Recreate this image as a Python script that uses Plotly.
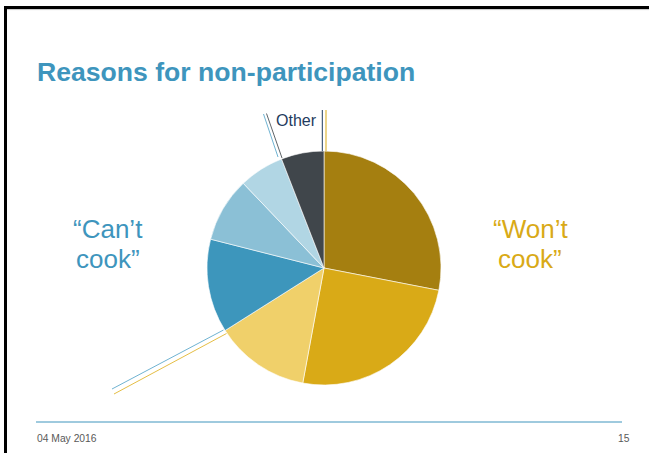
import plotly.graph_objects as go

# ---- data ----
reasons = ["Won't 1", "Won't 2", "Won't 3", "Can't 1", "Can't 2", "Can't 3", "Other"]
shares = [28.0, 24.8, 13.1, 12.9, 8.9, 6.2, 5.9]
slice_colors = ["#A57F10", "#D9AA17", "#F0D06A", "#3D96BC", "#8BC0D6", "#B1D6E4", "#40464B"]

title_text = "Reasons for non-participation"
cant_lines = ["\u201cCan\u2019t", "cook\u201d"]
wont_lines = ["\u201cWon\u2019t", "cook\u201d"]
other_text = "Other"
date_text = "04 May 2016"
page_text = "15"

W, H = 649, 453

def px(x):
    return x / W

def py(y):
    return 1 - y / H

fig = go.Figure()
fig.add_trace(go.Pie(
    labels=reasons, values=shares, sort=False, direction="clockwise", rotation=0,
    marker=dict(colors=slice_colors, line=dict(color="white", width=0.6)),
    textinfo="none", hoverinfo="label+percent", showlegend=False,
    domain=dict(x=[px(207), px(441)], y=[py(385), py(151)]),
))

shapes = []
# slide border (top and left)
shapes.append(dict(type="rect", xref="paper", yref="paper", x0=px(4), x1=px(7), y0=py(453), y1=py(6),
                   fillcolor="black", line=dict(width=0), layer="above"))
shapes.append(dict(type="rect", xref="paper", yref="paper", x0=px(4), x1=px(649), y0=py(9), y1=py(6),
                   fillcolor="black", line=dict(width=0), layer="above"))
shapes.append(dict(type="line", xref="paper", yref="paper", x0=px(7), x1=px(649), y0=py(9.6), y1=py(9.6),
                   line=dict(color="#C8C8C8", width=1)))
# footer rule
shapes.append(dict(type="line", xref="paper", yref="paper", x0=px(36), x1=px(622), y0=py(422), y1=py(422),
                   line=dict(color="#3E95BD", width=1)))
# group bracket lines
bracket = [
    ((322.3, 110), (322.3, 151), "#1F3B5E"),
    ((326, 110), (326, 151), "#D9AA17"),
    ((263.5, 114), (278, 157), "#6FB3D2"),
    ((266.5, 113.5), (282, 158), "#5F656A"),
    ((223.5, 330), (112, 389), "#6FB3D2"),
    ((226.5, 333.5), (114, 394), "#E5BE45"),
]
for (x0, y0), (x1, y1), c in bracket:
    shapes.append(dict(type="line", xref="paper", yref="paper", x0=px(x0), y0=py(y0), x1=px(x1), y1=py(y1),
                       line=dict(color=c, width=1)))

ann = []
font_main = "Liberation Sans, Arial, sans-serif"
ann.append(dict(text="<b>" + title_text + "</b>", x=px(35), y=py(72), xref="paper", yref="paper",
                xanchor="left", yanchor="middle", showarrow=False,
                font=dict(family=font_main, size=26.6, color="#3E95BD")))
for i, t in enumerate(cant_lines):
    ann.append(dict(text=t, x=px(108), y=py(229 + 30 * i), xref="paper", yref="paper",
                    xanchor="center", yanchor="middle", showarrow=False,
                    font=dict(family=font_main, size=26, color="#3E95BD")))
for i, t in enumerate(wont_lines):
    ann.append(dict(text=t, x=px(530), y=py(229 + 30 * i), xref="paper", yref="paper",
                    xanchor="center", yanchor="middle", showarrow=False,
                    font=dict(family=font_main, size=26, color="#D9AA17")))
ann.append(dict(text=other_text, x=px(296), y=py(120), xref="paper", yref="paper",
                xanchor="center", yanchor="middle", showarrow=False,
                font=dict(family=font_main, size=16, color="#1F3B5E")))
ann.append(dict(text=date_text, x=px(34.5), y=py(438), xref="paper", yref="paper",
                xanchor="left", yanchor="middle", showarrow=False,
                font=dict(family=font_main, size=10.3, color="#595959")))
ann.append(dict(text=page_text, x=px(632), y=py(438), xref="paper", yref="paper",
                xanchor="right", yanchor="middle", showarrow=False,
                font=dict(family=font_main, size=10.3, color="#595959")))

fig.update_layout(
    width=W, height=H, margin=dict(l=0, r=0, t=0, b=0),
    paper_bgcolor="white", plot_bgcolor="white",
    shapes=shapes, annotations=ann, showlegend=False,
)
fig.write_html("out.html", config={"displayModeBar": False},
               post_script="document.body.style.margin='0';document.body.style.overflow='hidden';")
